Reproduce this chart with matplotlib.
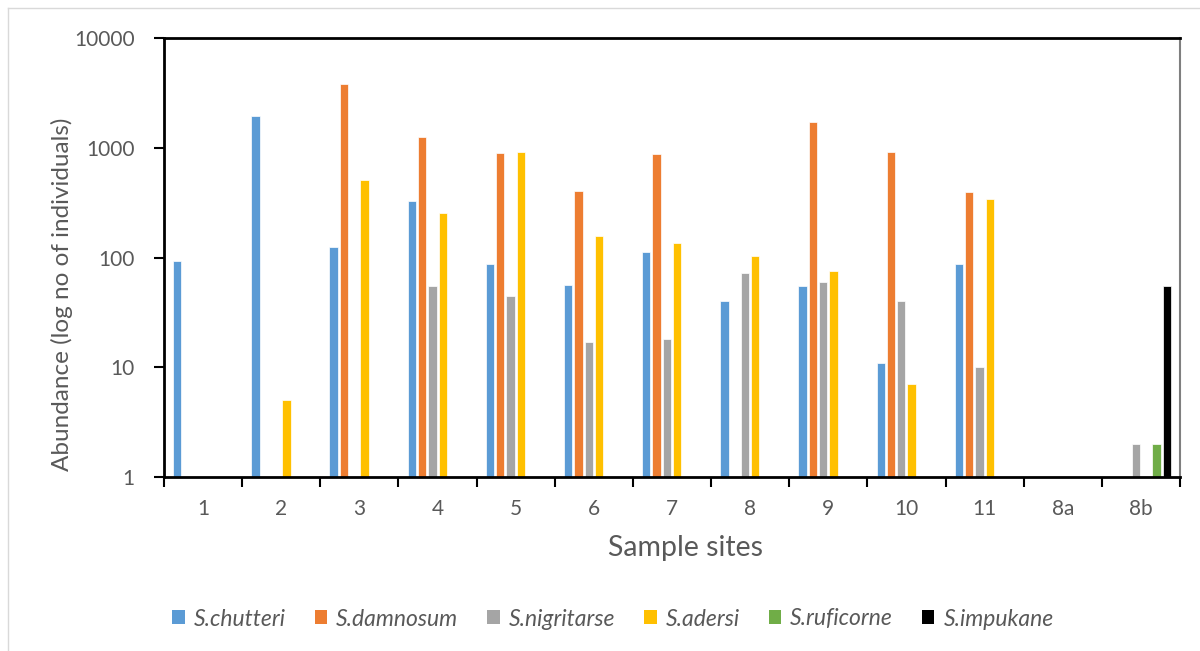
import numpy as np
import matplotlib
matplotlib.use("Agg")
import matplotlib.pyplot as plt
from matplotlib.lines import Line2D
from matplotlib.patches import Patch

plt.rcParams['font.family'] = ['Lato', 'DejaVu Sans']

sites = ["1", "2", "3", "4", "5", "6", "7", "8", "9", "10", "11", "8a", "8b"]
species = ["S.chutteri", "S.damnosum", "S.nigritarse", "S.adersi", "S.ruficorne", "S.impukane"]
colors = ["#5B9BD5", "#ED7D31", "#A5A5A5", "#FFC000", "#70AD47", "#000000"]

nan = np.nan
chutteri   = [93, 1950, 125, 330, 87, 56, 113, 40, 55, 11, 87, nan, nan]
damnosum   = [nan, nan, 3800, 1250, 890, 405, 870, nan, 1700, 920, 395, nan, nan]
nigritarse = [nan, nan, nan, 55, 45, 17, 18, 72, 60, 40, 10, nan, 2]
adersi     = [nan, 5, 510, 255, 920, 156, 136, 103, 76, 7, 340, nan, nan]
ruficorne  = [nan, nan, nan, nan, nan, nan, nan, nan, nan, nan, nan, nan, 2]
impukane   = [nan, nan, nan, nan, nan, nan, nan, nan, nan, nan, nan, nan, 55]
series = [chutteri, damnosum, nigritarse, adersi, ruficorne, impukane]

fig = plt.figure(figsize=(12, 6.51), dpi=100)
ax = fig.add_axes([164/1200, 1 - 477/651, (1180 - 164)/1200, (477 - 38)/651])

x = np.arange(len(sites))
pitch = 0.132
width = 0.106
for i, (vals, col) in enumerate(zip(series, colors)):
    ax.bar(x + (i - 2.5) * pitch, np.array(vals, dtype=float), width=width,
           color=col, edgecolor="white", linewidth=0.5, bottom=0, zorder=2)

ax.set_yscale("log")
ax.set_ylim(1, 10000)
ax.set_xlim(-0.5, len(sites) - 0.5)
ax.set_yticks([1, 10, 100, 1000, 10000])
ax.set_yticklabels(["1", "10", "100", "1000", "10000"])
ax.yaxis.set_minor_locator(matplotlib.ticker.NullLocator())

# ticks on category boundaries, labels at category centres
ax.set_xticks(np.arange(len(sites) + 1) - 0.5)
ax.set_xticklabels([])
ax.set_xticks(x, minor=True)
ax.set_xticklabels(sites, minor=True)
ax.tick_params(axis="x", which="major", direction="out", length=7, width=1.5, color="black")
ax.tick_params(axis="x", which="minor", length=0, pad=16, labelsize=15, labelcolor="#595959")
ax.tick_params(axis="y", direction="out", length=7, width=1.5, color="black",
               labelsize=15, labelcolor="#595959", pad=14)

for side in ["left", "bottom", "top"]:
    ax.spines[side].set_color("black")
    ax.spines[side].set_linewidth(2)
ax.spines["right"].set_color("#7F7F7F")
ax.spines["right"].set_linewidth(1.5)

fig.text(686/1200, 1 - 548/651, "Sample sites", ha="center", va="center",
         fontsize=20.5, color="#595959")
fig.text(62/1200, 1 - 294/651, "Abundance (log no of individuals)", ha="center", va="center",
         rotation=90, fontsize=17.5, color="#595959")

handles = [Patch(facecolor=c, edgecolor="none") for c in colors]
leg = fig.legend(handles, species, loc="center", bbox_to_anchor=(613/1200, 1 - 619/651),
                 ncol=6, frameon=False, handlelength=0.55, handleheight=0.55,
                 handletextpad=0.4, columnspacing=1.25,
                 prop={"style": "italic", "size": 16.5})
for t in leg.get_texts():
    t.set_color("#595959")

# chart area border
fig.add_artist(Line2D([8/1200, 8/1200], [0, 1 - 8/651], color="#D9D9D9", lw=1,
                      transform=fig.transFigure))
fig.add_artist(Line2D([8/1200, 1], [1 - 8/651, 1 - 8/651], color="#D9D9D9", lw=1,
                      transform=fig.transFigure))

fig.savefig("out.png", dpi=100)
